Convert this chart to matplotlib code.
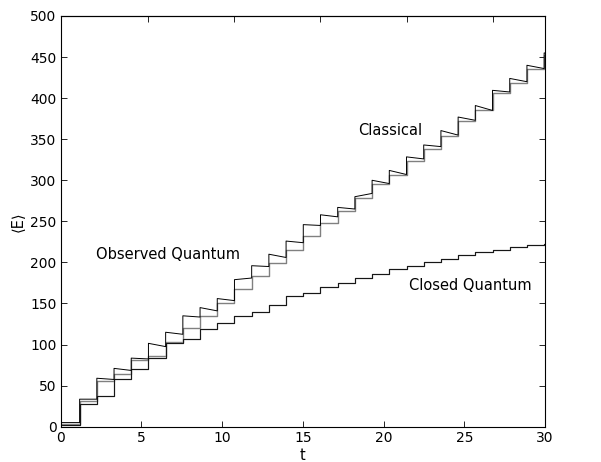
import numpy as np
import matplotlib
matplotlib.use("Agg")
import matplotlib.pyplot as plt

plt.rcParams['font.family'] = ['DejaVu Sans']

# kick index (interval n spans kick n .. kick n+1)
kicks = np.arange(0, 29)

# Classical: value right after each kick and just before the next one
classical_start = [5, 33.5, 59, 71, 83.5, 101.5, 115, 135, 145, 156, 179, 196, 210, 226,
                   246, 258, 267, 280, 300, 312, 328.5, 343, 360.5, 377, 391, 409.5, 424, 440, 455]
classical_end = [5, 33.5, 57.5, 68.5, 82.5, 97.5, 112.5, 133.5, 141, 153.5, 181, 195, 206, 224,
                 245, 255.5, 265, 284, 296, 307, 326, 341, 355, 373, 385, 407.5, 420, 436, 454]
# Observed quantum
observed = [3.5, 31.5, 56, 64, 81, 86, 103.5, 120, 135, 151, 168, 183.5, 199.5, 215,
            232, 247.5, 263, 279, 295, 306, 324, 338, 354, 372, 386, 406, 419, 436, 453]
# Closed quantum
closed = [2.5, 27.5, 37.5, 57.5, 70.2, 84, 101.5, 106.3, 119.5, 126, 134.7, 140, 148, 159,
          163, 169.5, 175.2, 181.3, 186, 191.5, 195.5, 200.5, 204.2, 208.5, 212.3, 215.5,
          218.5, 221, 223]

t_labels = [0, 5, 10, 15, 20, 25, 30]
y_ticks = [0, 50, 100, 150, 200, 250, 300, 350, 400, 450, 500]
top_ticks = [5, 10, 15, 20, 25]

X0, X1 = -0.1, 28.05


def steps(start, end):
    xs, ys = [], []
    for n, s, e in zip(kicks, start, end):
        xs += [n, n + 1]
        ys += [s, e]
    return np.array(xs), np.array(ys)


fig = plt.figure(figsize=(6.01, 4.62), dpi=100)
ax = fig.add_axes([60.7 / 601, 1 - 426.7 / 462, 484.3 / 601, 410.7 / 462])

x, y = steps(observed, observed)
ax.plot(x, y, color='#808080', lw=1.0)
x, y = steps(closed, closed)
ax.plot(x, y, color='#888888', lw=1.0)
ax.plot(x, y, color='black', lw=0.6)
x, y = steps(classical_start, classical_end)
ax.plot(x, y, color='black', lw=0.7)

ax.set_xlim(X0, X1)
ax.set_ylim(0, 500)
ax.set_yticks(y_ticks)
tl = np.array(t_labels, dtype=float)
ax.set_xticks(X0 + tl * (X1 - X0) / 30.0, [str(v) for v in t_labels])
ax.tick_params(axis='both', direction='in', length=4, width=0.6, labelsize=10,
               right=True, top=False, pad=3)
sec = ax.secondary_xaxis('top')
sec.set_xticks(top_ticks, ['' for _ in top_ticks])
sec.tick_params(direction='in', length=4, width=0.6)
for s in ax.spines.values():
    s.set_linewidth(0.8)
sec.spines['top'].set_linewidth(0.8)

ax.set_xlabel('t', fontsize=10.5, labelpad=2)
ax.set_ylabel('⟨E⟩', fontsize=10.5, labelpad=3)

ax.text(0.614, 0.72, 'Classical', transform=ax.transAxes, fontsize=10.5, va='center')
ax.text(0.073, 0.4205, 'Observed Quantum', transform=ax.transAxes, fontsize=10.5, va='center')
ax.text(0.719, 0.3426, 'Closed Quantum', transform=ax.transAxes, fontsize=10.5, va='center')

fig.savefig('out.png', dpi=100)
